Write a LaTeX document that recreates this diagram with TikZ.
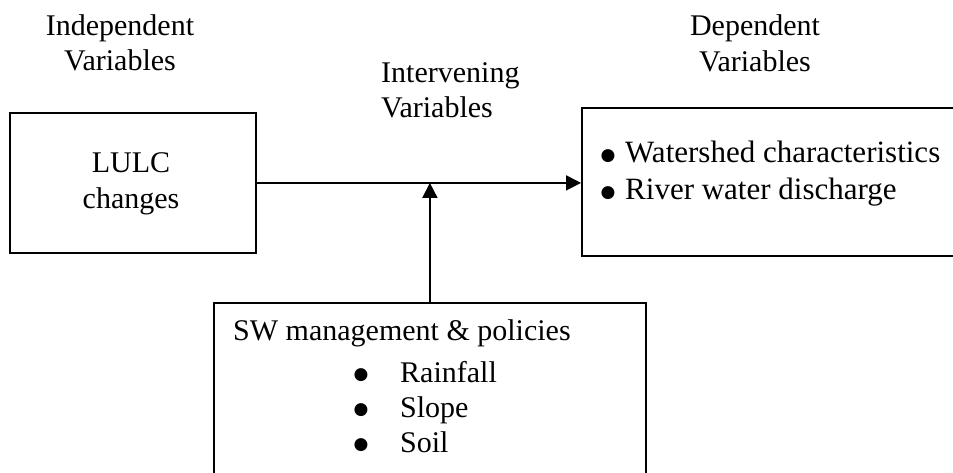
\documentclass[tikz,border=0pt]{standalone}
\usepackage{fontspec}
\setmainfont{Liberation Serif}
\newfontfamily\symfont{DejaVu Sans}
\usetikzlibrary{arrows.meta}
\begin{document}
\begin{tikzpicture}[x=1pt,y=-1pt, font=\fontsize{30}{36}\selectfont,
  box/.style={draw, line width=1.8pt, inner sep=0pt},
  lbl/.style={inner sep=0pt, anchor=base},
  lblw/.style={inner sep=0pt, anchor=base west},
  bul/.style={inner sep=0pt, anchor=center, font=\symfont\fontsize{17}{17}\selectfont},
  conn/.style={line width=1.8pt, -{Triangle[length=15pt,width=15pt]}}]
\useasboundingbox (0,0) rectangle (953,472);
% boxes
\node[box, minimum width=246pt, minimum height=140pt, anchor=north west] (lulc) at (9,112) {};
\node[box, minimum width=390pt, minimum height=148pt, anchor=north west] (dep) at (581,107) {};
\node[box, minimum width=432pt, minimum height=190pt, anchor=north west] (sw) at (213,302) {};
% headings
\node[lbl] (ind1) at (120,35) {Independent};
\node[lbl] (ind2) at (120,70) {Variables};
\node[lblw] (int1) at (381,82) {Intervening};
\node[lblw] (int2) at (381,117) {Variables};
\node[lbl] (dep1) at (755,35) {Dependent};
\node[lbl] (dep2) at (755,71) {Variables};
% left box text
\node[lbl] (l1) at (131,172) {LULC};
\node[lbl] (l2) at (131,208) {changes};
% right box text
\node[bul] (rb1) at (608,156) {●};
\node[lblw, font=\fontsize{31}{36}\selectfont] (r1) at (625,162) {Watershed characteristics};
\node[bul] (rb2) at (608,193) {●};
\node[lblw, font=\fontsize{31}{36}\selectfont] (r2) at (625,199) {River water discharge};
% bottom box text
\node[lblw] (s0) at (233,340) {SW management \& policies};
\node[bul] (b1) at (361,375) {●};
\node[lblw] (s1) at (400,382) {Rainfall};
\node[bul] (b2) at (361,410) {●};
\node[lblw] (s2) at (400,417) {Slope};
\node[bul] (b3) at (361,445) {●};
\node[lblw] (s3) at (400,452) {Soil};
% connectors
\draw[conn] (lulc.east) -- (lulc.east -| dep.west);
\draw[conn] (sw.north) -- (sw.north |- lulc.east);
\end{tikzpicture}
\end{document}
